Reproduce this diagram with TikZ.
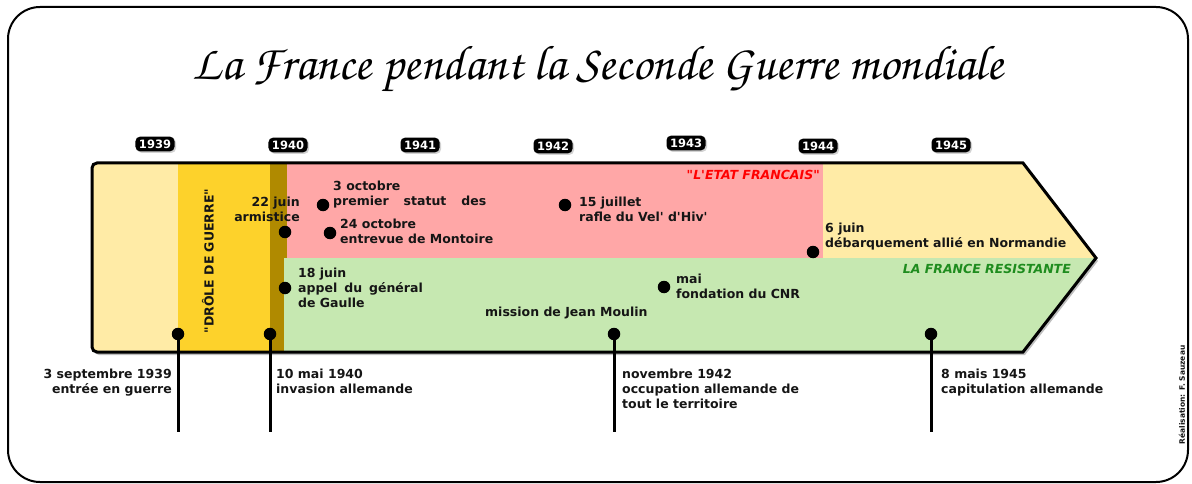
\documentclass[tikz,border=0pt]{standalone}
\usepackage[T1]{fontenc}
\usepackage{fontspec}
\usepackage{graphicx}
\setmainfont{DejaVu Sans}
\usetikzlibrary{shadows}
\definecolor{lyellow}{HTML}{FFEBA6}
\definecolor{goldz}{HTML}{FDD22B}
\definecolor{dgold}{HTML}{B08A00}
\definecolor{pinkz}{HTML}{FFA7A7}
\definecolor{greenz}{HTML}{C6E8B1}
\definecolor{redt}{HTML}{FF0000}
\definecolor{greent}{HTML}{1E8C1E}
\definecolor{ink}{HTML}{151515}
\begin{document}
\begin{tikzpicture}[x=1pt,y=-1pt,
  lbl/.style={font=\bfseries\fontsize{12.5}{15}\selectfont, text=ink, inner sep=0pt, align=left},
  yearbox/.style={fill=black, text=white, font=\bfseries\fontsize{11.5}{11.5}\selectfont, rounded corners=4.5pt,
    inner xsep=3.5pt, inner ysep=3pt, drop shadow={opacity=0.35, shadow xshift=1.5pt, shadow yshift=-1.5pt}},
  dot/.style={circle, fill=black, inner sep=0pt, minimum size=12.5pt},
  stem/.style={line width=3pt, draw=black},
  arrowshape/.style={insert path={(1023,163) -- (1096,258) -- (1023,352) [rounded corners=5pt] -- (92,352) -- (92,163) [sharp corners] -- cycle}}
]
\useasboundingbox (0,0) rectangle (1192,484);
\fill[white] (0,0) rectangle (1192,484);
% outer frame
\draw[line width=2pt, rounded corners=32pt] (8,7) rectangle (1188,482);
% title
\node (title) at (598,70) {\resizebox{810pt}{!}{\fontencoding{T1}\fontfamily{pzc}\fontseries{mb}\fontshape{it}\selectfont La France pendant la Seconde Guerre mondiale}};
% year boxes
\node[yearbox] (y1939) at (155,144) {1939};
\node[yearbox] (y1940) at (288,145) {1940};
\node[yearbox] (y1941) at (420,145) {1941};
\node[yearbox] (y1942) at (553,146) {1942};
\node[yearbox] (y1943) at (686,143) {1943};
\node[yearbox] (y1944) at (818,146) {1944};
\node[yearbox] (y1945) at (951,145) {1945};
% arrow shadow
\fill[black, opacity=0.25, xshift=2pt, yshift=-3pt] [arrowshape];
% arrow fills
\begin{scope}
  \clip [arrowshape];
  \fill[lyellow] (80,150) rectangle (1110,360);
  \fill[goldz] (178,150) rectangle (270,360);
  \fill[dgold] (270,150) rectangle (287,258);
  \fill[dgold] (270,258) rectangle (284,360);
  \fill[pinkz] (287,150) rectangle (823,258);
  \fill[greenz] (284,258) rectangle (1110,360);
\end{scope}
\draw[line width=3pt, line join=miter] [arrowshape];
% section labels
\node[font=\bfseries\itshape\fontsize{12.5}{15}\selectfont, text=redt, inner sep=0pt, anchor=east] (etat) at (820,175) {\textquotedbl L\textquotesingle ETAT FRANCAIS\textquotedbl};
\node[font=\bfseries\itshape\fontsize{12.5}{15}\selectfont, text=greent, inner sep=0pt, anchor=east] (resist) at (1071,269) {LA FRANCE RESISTANTE};
\node[lbl, rotate=90] (drole) at (208,261) {\textquotedbl DRÔLE DE GUERRE\textquotedbl};
% stems end points
\coordinate (e1) at (178,432);
\coordinate (e2) at (270,432);
\coordinate (e3) at (614,432);
\coordinate (e4) at (931,432);
% bottom dots
\node[dot] (p1) at (178,334) {};
\node[dot] (p2) at (270,334) {};
\node[dot] (p3) at (614,334) {};
\node[dot] (p4) at (931,334) {};
\draw[stem] (p1.center) -- (e1);
\draw[stem] (p2.center) -- (e2);
\draw[stem] (p3.center) -- (e3);
\draw[stem] (p4.center) -- (e4);
% inner dots
\node[dot] (d22) at (285,232) {};
\node[dot] (d3oct) at (323,205) {};
\node[dot] (d24oct) at (330,233) {};
\node[dot] (d15) at (565,205) {};
\node[dot] (d6) at (813,252) {};
\node[dot] (d18) at (285,288) {};
\node[dot] (dmai) at (664,287) {};
% texts
\node[lbl, align=right, anchor=north east] (t1939) at (172,369) {3 septembre 1939\\entrée en guerre};
\node[lbl, anchor=north west] (t1940) at (276,369) {10 mai 1940\\invasion allemande};
\node[lbl, anchor=north west] (t1942) at (622,369) {novembre 1942\\occupation allemande de\\tout le territoire};
\node[lbl, anchor=north west] (t1945) at (941,369) {8 mais 1945\\capitulation allemande};
\node[lbl, align=right, anchor=north east] (tarm) at (300,197) {22 juin\\armistice};
\node[lbl, anchor=north west] (tstat) at (333,181) {3 octobre\\premier\hspace{15pt}statut\hspace{15pt}des};
\node[lbl, anchor=north west] (tmont) at (340,219) {24 octobre\\entrevue de Montoire};
\node[lbl, anchor=north west] (tvel) at (579,197) {15 juillet\\rafle du Vel\textquotesingle{} d\textquotesingle Hiv\textquotesingle};
\node[lbl, anchor=north west] (tnorm) at (825,223) {6 juin\\débarquement allié en Normandie};
\node[lbl, anchor=north west] (tappel) at (298,268) {18 juin\\appel\hspace{7pt}du\hspace{7pt}général\\de Gaulle};
\node[lbl, anchor=north west] (tcnr) at (676,274) {mai\\fondation du CNR};
\node[lbl, anchor=north west] (tmoulin) at (485,307) {mission de Jean Moulin};
% credit
\node[font=\bfseries\fontsize{7.5}{9}\selectfont, text=ink, rotate=90, inner sep=0pt] (credit) at (1182,395) {Réalisation: F. Sauzeau};
\end{tikzpicture}
\end{document}
